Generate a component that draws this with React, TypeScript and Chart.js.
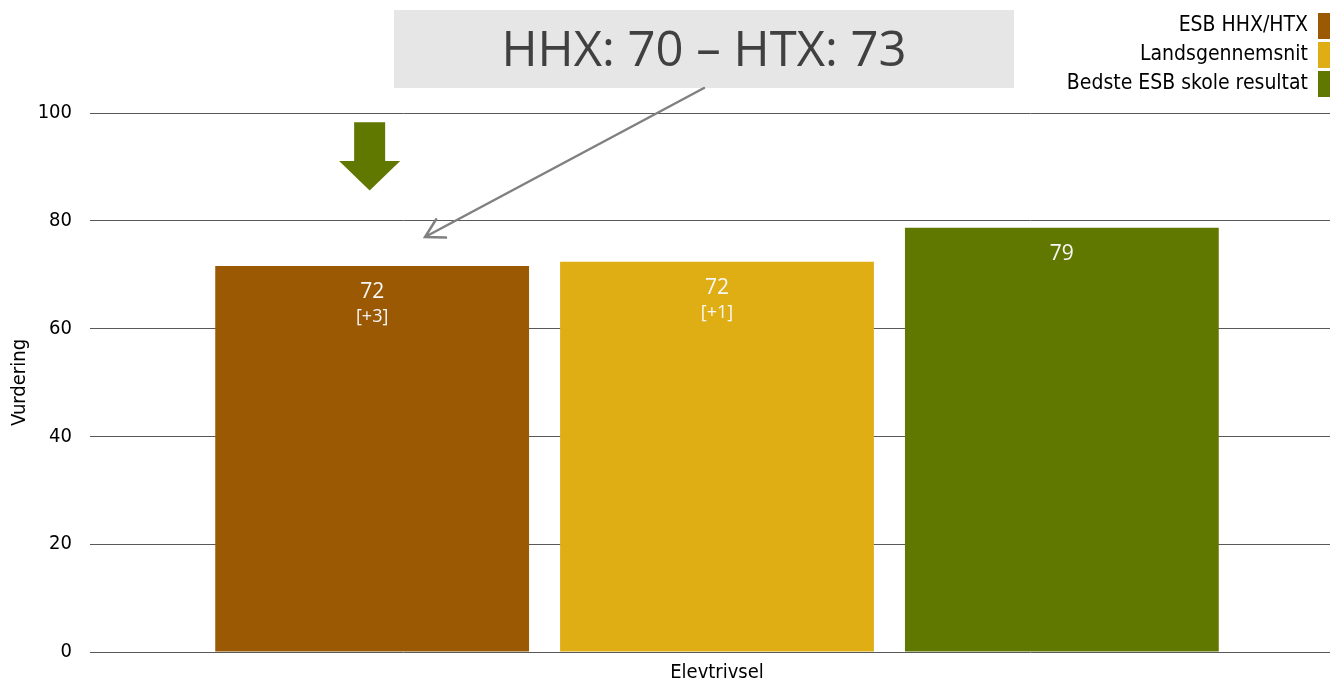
import React, { useEffect, useRef } from "react";
import { Chart, registerables } from "chart.js";

Chart.register(...registerables);

const categories = ["Elevtrivsel"];
const seriesNames = ["ESB HHX/HTX", "Landsgennemsnit", "Bedste ESB skole resultat"];
const seriesValues = [71.6, 72.4, 78.7];
const valueLabels = ["72", "72", "79"];
const diffLabels = ["[+3]", "[+1]", ""];
const seriesColors = ["#9B5904", "#DFAE14", "#607700"];
const yTickValues = [0, 20, 40, 60, 80, 100];
const calloutText = "HHX: 70 \u2013 HTX: 73";
const yTitle = "Vurdering";

const AXIS_FONT = '"DejaVu Sans Condensed", "DejaVu Sans", sans-serif';
const LABEL_FONT = '"Open Sans", "Noto Sans", sans-serif';

const overlayPlugin = {
  id: "overlay",
  afterDatasetsDraw(chart: any) {
    const ctx = chart.ctx as CanvasRenderingContext2D;
    const yScale = chart.scales.y;
    // bar value labels
    chart.data.datasets.forEach((_ds: any, i: number) => {
      const meta = chart.getDatasetMeta(i);
      const el = meta.data[0];
      if (!el) return;
      ctx.save();
      ctx.fillStyle = "#F7F7F7";
      ctx.textAlign = "center";
      ctx.textBaseline = "middle";
      ctx.font = `21px ${LABEL_FONT}`;
      ctx.fillText(valueLabels[i], el.x, el.y + 26);
      if (diffLabels[i]) {
        ctx.font = `18px ${LABEL_FONT}`;
        ctx.fillText(diffLabels[i], el.x, el.y + 51);
      }
      ctx.restore();
    });

    // green down arrow above first bar
    const el0 = chart.getDatasetMeta(0).data[0];
    if (el0) {
      const cx = el0.x - 2.5;
      const yTop = yScale.getPixelForValue(98.3);
      const yMid = yScale.getPixelForValue(91.1);
      const yTip = yScale.getPixelForValue(85.6);
      ctx.save();
      ctx.fillStyle = seriesColors[2];
      ctx.beginPath();
      ctx.moveTo(cx - 15.5, yTop);
      ctx.lineTo(cx + 15.5, yTop);
      ctx.lineTo(cx + 15.5, yMid);
      ctx.lineTo(cx + 30.5, yMid);
      ctx.lineTo(cx, yTip);
      ctx.lineTo(cx - 30.5, yMid);
      ctx.lineTo(cx - 15.5, yMid);
      ctx.closePath();
      ctx.fill();
      ctx.restore();
    }
  },
  afterDraw(chart: any) {
    const ctx = chart.ctx as CanvasRenderingContext2D;
    // callout box
    ctx.save();
    ctx.fillStyle = "#E6E6E6";
    ctx.fillRect(394, 10, 620, 78);
    ctx.fillStyle = "#404040";
    ctx.font = `49px ${LABEL_FONT}`;
    ctx.textAlign = "center";
    ctx.textBaseline = "middle";
    ctx.fillText(calloutText, 704, 52);

    // arrow from callout to bar
    const x1 = 704, y1 = 88, x2 = 425, y2 = 237;
    ctx.strokeStyle = "#808080";
    ctx.lineWidth = 2.5;
    ctx.lineCap = "round";
    ctx.beginPath();
    ctx.moveTo(x1, y1);
    ctx.lineTo(x2, y2);
    const ang = Math.atan2(y1 - y2, x1 - x2);
    const L = 21;
    ctx.moveTo(x2 + L * Math.cos(ang - 0.52), y2 + L * Math.sin(ang - 0.52));
    ctx.lineTo(x2, y2);
    ctx.lineTo(x2 + L * Math.cos(ang + 0.52), y2 + L * Math.sin(ang + 0.52));
    ctx.stroke();
    ctx.restore();

    // legend (text right-aligned, swatch on the right)
    ctx.save();
    const right = chart.width - 14;
    ctx.font = `21px ${AXIS_FONT}`;
    ctx.fillStyle = "#000000";
    ctx.textAlign = "right";
    ctx.textBaseline = "middle";
    seriesNames.forEach((name, i) => {
      const cy = 26 + i * 29;
      ctx.fillStyle = seriesColors[i];
      ctx.fillRect(right - 12, cy - 13, 12, 26);
      ctx.fillStyle = "#000000";
      ctx.fillText(name, right - 22, cy);
    });
    ctx.restore();
  },
};

const whiteBg = {
  id: "whiteBg",
  beforeDraw(chart: any) {
    const ctx = chart.ctx;
    ctx.save();
    ctx.fillStyle = "#FFFFFF";
    ctx.fillRect(0, 0, chart.width, chart.height);
    ctx.restore();
  },
};

export default function App() {
  const ref = useRef<HTMLCanvasElement | null>(null);

  useEffect(() => {
    if (!ref.current) return;
    const chart = new Chart(ref.current, {
      type: "bar",
      data: {
        labels: categories,
        datasets: seriesNames.map((name, i) => ({
          label: name,
          data: [seriesValues[i]],
          backgroundColor: seriesColors[i],
          borderWidth: 0,
          categoryPercentage: 0.825,
          barPercentage: 0.91,
        })),
      },
      options: {
        responsive: false,
        animation: false,
        layout: { padding: { top: 113, left: 0, right: 0, bottom: 0 } },
        plugins: {
          legend: { display: false },
          tooltip: { enabled: false },
        },
        scales: {
          x: {
            grid: { display: false },
            border: { display: false },
            ticks: {
              color: "#000000",
              font: { family: AXIS_FONT, size: 20 },
              padding: 1,
            },
            afterFit: (scale: any) => {
              scale.height = 29;
            },
          },
          y: {
            min: 0,
            max: 100,
            afterBuildTicks: (scale: any) => {
              scale.ticks = yTickValues.map((v) => ({ value: v }));
            },
            grid: { color: "#595959", lineWidth: 1, drawTicks: false },
            border: { display: false },
            ticks: {
              color: "#000000",
              font: { family: AXIS_FONT, size: 20 },
              padding: 18,
            },
            title: {
              display: true,
              text: yTitle,
              color: "#000000",
              font: { family: AXIS_FONT, size: 20 },
              padding: { top: 8, bottom: 0 },
            },
            afterFit: (scale: any) => {
              scale.width = 90;
            },
          },
        },
      },
      plugins: [whiteBg, overlayPlugin],
    });
    return () => chart.destroy();
  }, []);

  return (
    <div
      style={{
        position: "fixed",
        left: 0,
        top: 0,
        width: 1330,
        height: 682,
        overflow: "hidden",
        background: "#FFFFFF",
      }}
    >
      <canvas ref={ref} width={1344} height={682} style={{ width: 1344, height: 682, display: "block" }} />
    </div>
  );
}
